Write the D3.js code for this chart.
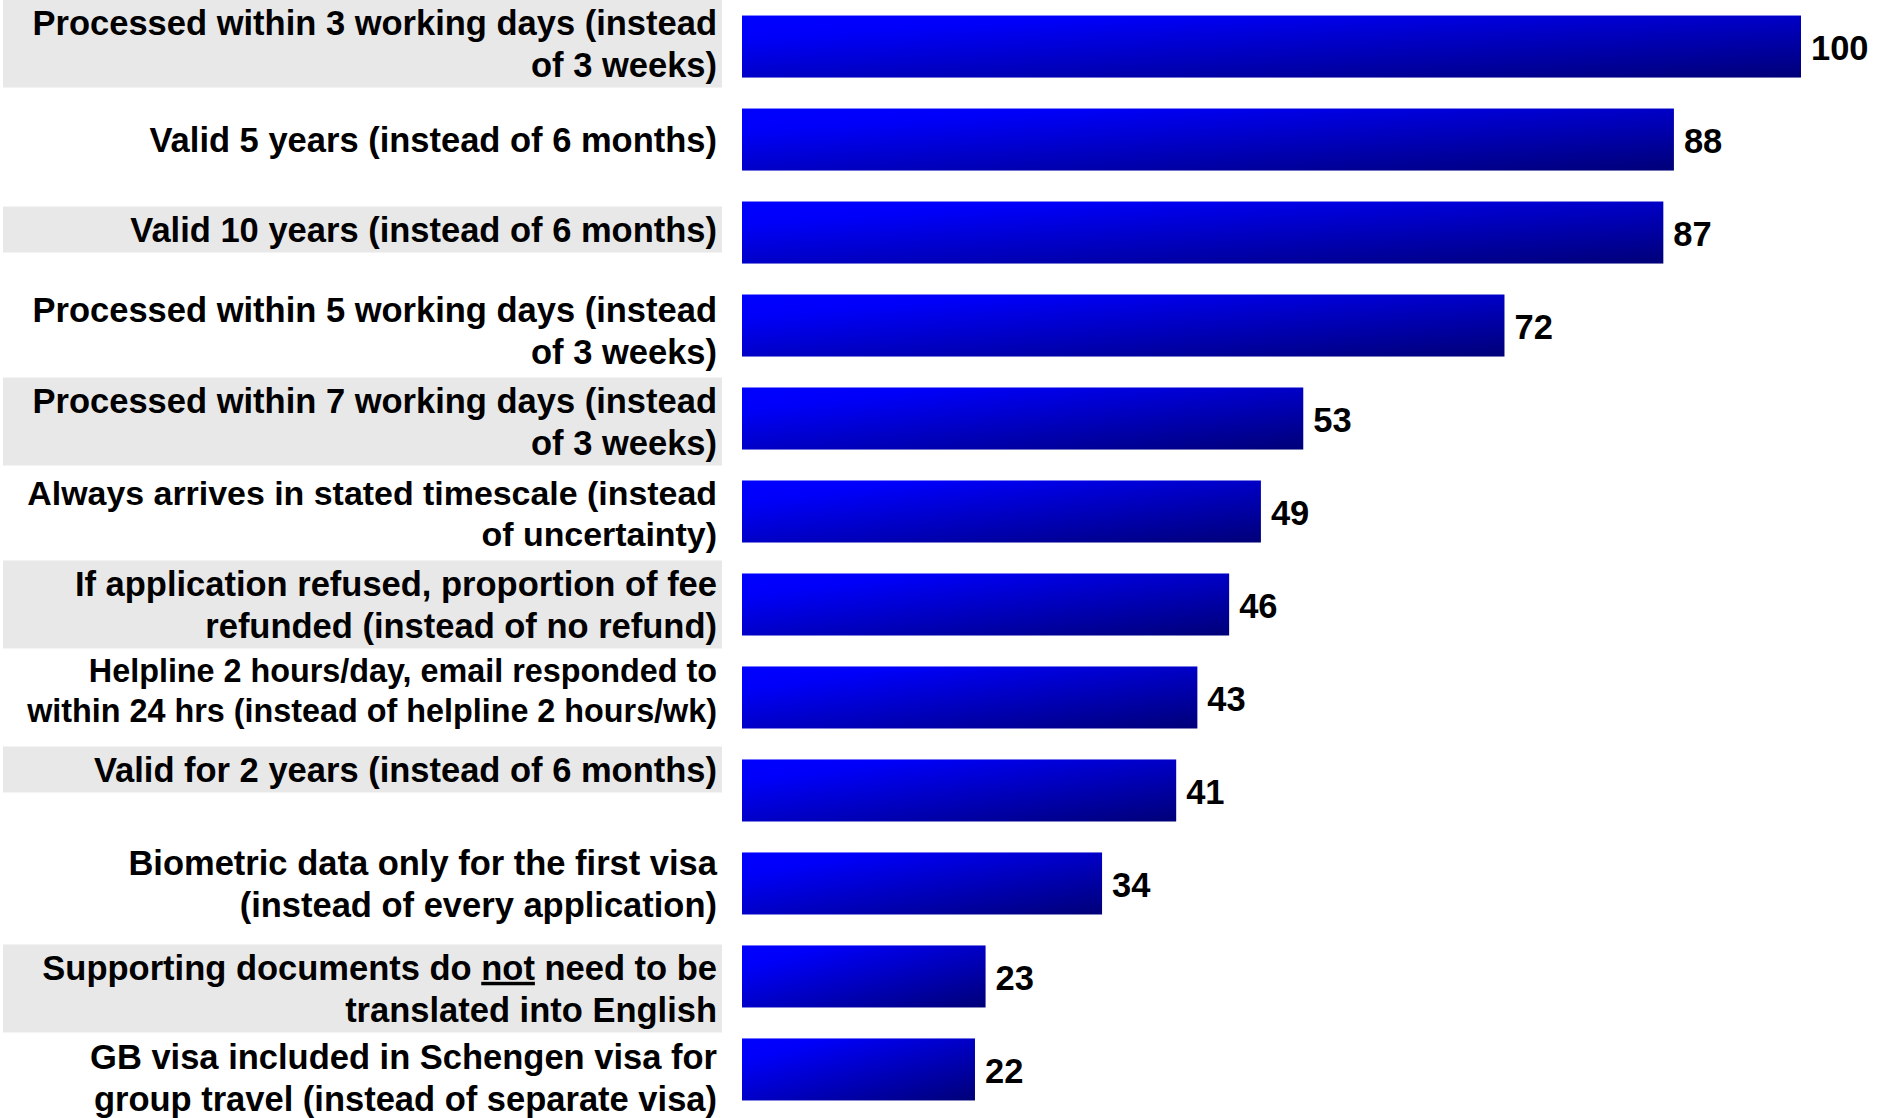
<!DOCTYPE html>
<html>
<head>
<meta charset="utf-8">
<script src="https://cdn.jsdelivr.net/npm/d3@7"></script>
<style>
  html, body { margin: 0; padding: 0; background: #ffffff; }
  svg { display: block; }
</style>
</head>
<body>
<div id="chart"></div>
<script>
// Dados: cada rótulo é uma lista de linhas; _palavra_ = sublinhado
const LABELS = [
  ['Processed within 3 working days (instead', 'of 3 weeks)'],
  ['Valid 5 years (instead of 6 months)'],
  ['Valid 10 years (instead of 6 months)'],
  ['Processed within 5 working days (instead', 'of 3 weeks)'],
  ['Processed within 7 working days (instead', 'of 3 weeks)'],
  ['Always arrives in stated timescale (instead', 'of uncertainty)'],
  ['If application refused, proportion of fee', 'refunded (instead of no refund)'],
  ['Helpline 2 hours/day, email responded to', 'within 24 hrs (instead of helpline 2 hours/wk)'],
  ['Valid for 2 years (instead of 6 months)'],
  ['Biometric data only for the first visa', '(instead of every application)'],
  ['Supporting documents do _not_ need to be', 'translated into English'],
  ['GB visa included in Schengen visa for', 'group travel (instead of separate visa)']
]
const VALUES = [100, 88, 87, 72, 53, 49, 46, 43, 41, 34, 23, 22]

// Caracteristicas do gráfico
const WIDTH = 1880
const HEIGHT = 1118
const BAR_LEFT = 742
const BAR_RIGHT = 1801
const LABEL_RIGHT = 717
const SHADE = { left: 3, right: 722, color: '#e8e8e8' }
const FONT = '"Liberation Sans", Arial, Helvetica, sans-serif'
const FONT_SIZE = 34.5
const LINE_H = 42
const MAX_LABEL_W = 690
// pequenos desvios verticais dos rótulos (caixas de texto do original)
const LABEL_DY = [-3, 0, -3, 5, 3, 2, 0, -7, -21, 0, 12, 8]

const svg = d3.select('#chart')
  .append('svg')
  .attr('width', WIDTH)
  .attr('height', HEIGHT)

const defs = svg.append('defs')
const grad = defs.append('linearGradient')
  .attr('id', 'barGrad')
  .attr('x1', 0).attr('y1', 0)
  .attr('x2', 1).attr('y2', 1)
grad.append('stop').attr('offset', '0%').attr('stop-color', '#0000ff')
grad.append('stop').attr('offset', '18%').attr('stop-color', '#0000fa')
grad.append('stop').attr('offset', '100%').attr('stop-color', '#000078')

const x = d3.scaleLinear() // Eixo x (valores)
  .domain([0, 100])
  .range([BAR_LEFT, BAR_RIGHT])

const y = d3.scaleBand() // Eixo y (categorias)
  .domain(d3.range(LABELS.length))
  .range([0, 1116])
  .paddingInner(0.333)
  .paddingOuter(0.167)

// Rótulos das categorias
const labelG = svg.append('g')

LABELS.forEach((lines, i) => {
  const g = labelG.append('g')
  const center = y(i) + y.bandwidth() / 2 + LABEL_DY[i]

  const shade = g.append('rect')
    .attr('fill', SHADE.color)

  const text = g.append('text')
    .attr('text-anchor', 'end')
    .style('font-family', FONT)
    .style('font-weight', 'bold')
    .style('font-size', FONT_SIZE + 'px')
    .style('fill', '#000')

  const n = lines.length
  const tspans = lines.map((line) => {
    const t = text.append('tspan').attr('x', LABEL_RIGHT)
    line.split(/(_[^_]+_)/).filter(s => s !== '').forEach(part => {
      if (part.startsWith('_') && part.endsWith('_')) {
        t.append('tspan')
          .style('text-decoration', 'underline')
          .text(part.slice(1, -1))
      } else {
        t.append('tspan').text(part)
      }
    })
    return t
  })

  // encolhe o texto quando é mais largo que a caixa
  let maxW = 0
  tspans.forEach(t => { maxW = Math.max(maxW, t.node().getComputedTextLength()) })
  const fs = maxW > MAX_LABEL_W ? FONT_SIZE * MAX_LABEL_W / maxW : FONT_SIZE
  const lh = LINE_H * fs / FONT_SIZE
  text.style('font-size', fs + 'px')

  tspans.forEach((t, k) => {
    t.attr('y', center + (k - (n - 1) / 2) * lh + fs * 0.716 / 2)
  })

  if (i % 2 === 0) {
    const h = n * LINE_H + 4
    const top = center - h / 2
    shade
      .attr('x', SHADE.left)
      .attr('width', SHADE.right - SHADE.left)
      .attr('y', Math.max(0, top))
      .attr('height', h - Math.max(0, -top))
  } else {
    shade.remove()
  }
})

// Barras
svg.append('g')
  .selectAll('rect')
  .data(VALUES)
  .join('rect')
  .attr('x', x(0))
  .attr('y', (d, i) => y(i))
  .attr('width', d => x(d) - x(0))
  .attr('height', y.bandwidth())
  .attr('fill', 'url(#barGrad)')

// Valores
svg.append('g')
  .selectAll('text')
  .data(VALUES)
  .join('text')
  .attr('x', d => x(d) + 10)
  .attr('y', (d, i) => y(i) + y.bandwidth() / 2 + FONT_SIZE * 0.716 / 2 + 1)
  .style('font-family', FONT)
  .style('font-weight', 'bold')
  .style('font-size', FONT_SIZE + 'px')
  .style('fill', '#000')
  .text(d => d)
</script>
</body>
</html>
